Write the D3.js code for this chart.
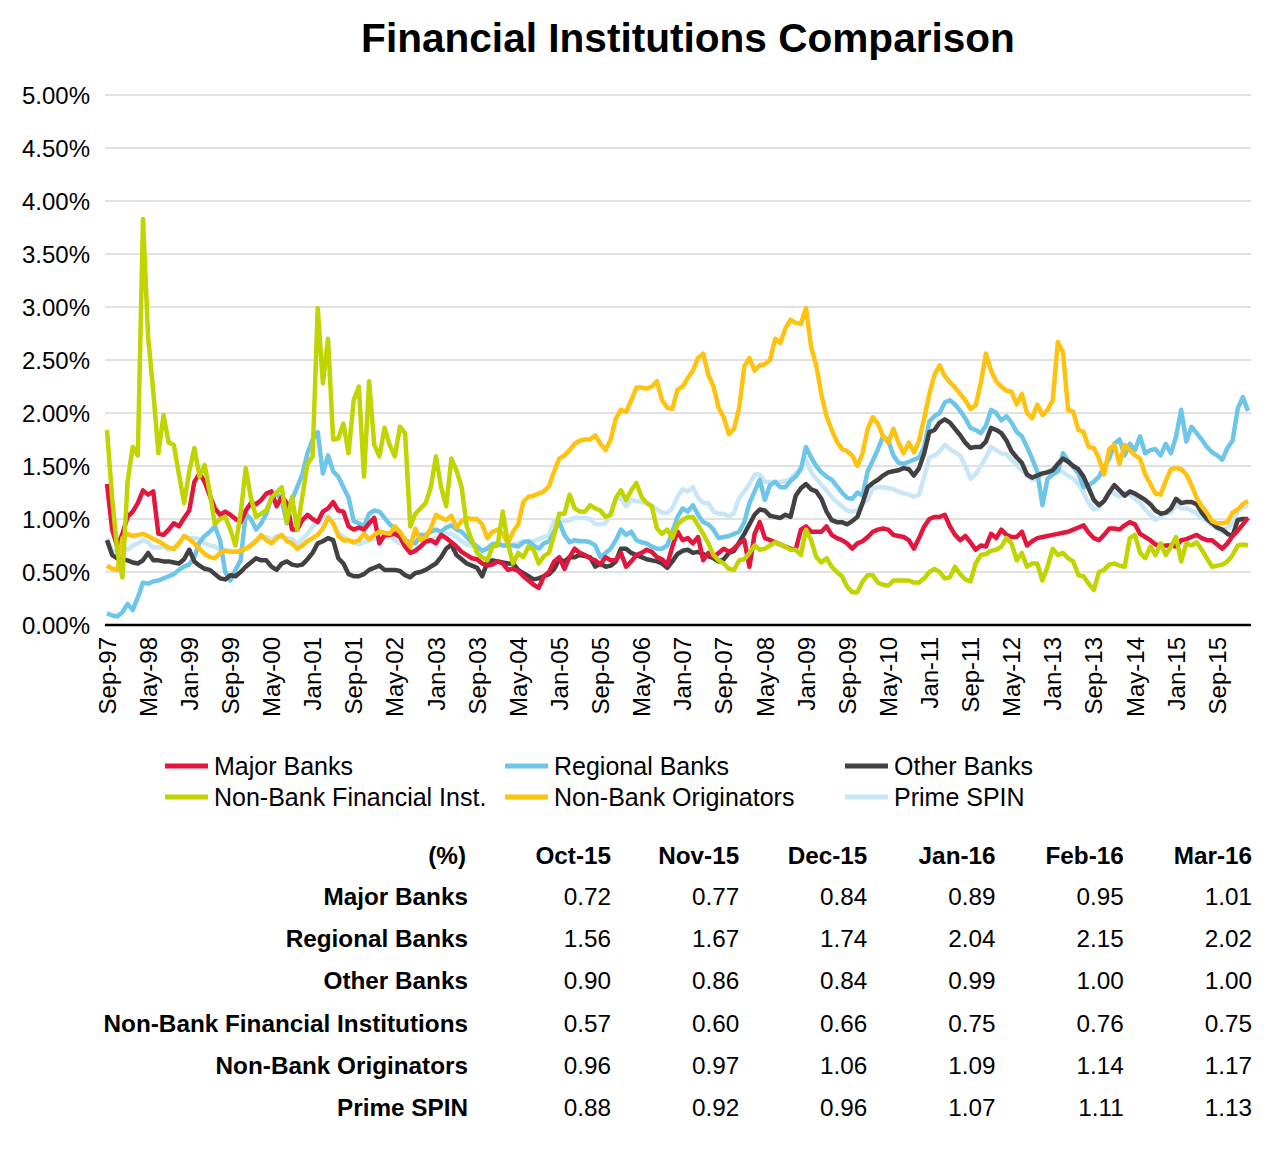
<!DOCTYPE html>
<html><head><meta charset="utf-8">
<script src="https://cdn.jsdelivr.net/npm/d3@7"></script>
<style>body{margin:0;background:#fff;font-family:"Liberation Sans",Arial,sans-serif}</style>
</head><body>
<svg id="chart" width="1276" height="1163"></svg>
<script>
// ---------- DATA ----------
const title = "Financial Institutions Comparison";
const firstMonth = "Sep-97"; // monthly series Sep-97 .. Mar-16 (223 months)
const xTickLabels = ["Sep-97","May-98","Jan-99","Sep-99","May-00","Jan-01","Sep-01","May-02","Jan-03","Sep-03","May-04","Jan-05","Sep-05","May-06","Jan-07","Sep-07","May-08","Jan-09","Sep-09","May-10","Jan-11","Sep-11","May-12","Jan-13","Sep-13","May-14","Jan-15","Sep-15"];
const yTicks = [0,0.5,1,1.5,2,2.5,3,3.5,4,4.5,5];

const majorBanks = [
1.33,0.90,0.74,0.86,1.02,1.07,1.15,1.27,1.23,1.26,
0.86,0.85,0.90,0.96,0.93,1.01,1.08,1.35,1.43,1.35,
1.22,1.10,1.04,1.07,1.04,1.00,0.97,1.08,1.15,1.14,
1.18,1.24,1.26,1.12,1.21,1.15,0.90,0.90,0.99,1.04,
1.00,0.97,1.07,1.10,1.16,1.08,1.07,0.93,0.90,0.92,
0.90,0.96,1.01,0.77,0.85,0.85,0.86,0.83,0.74,0.68,
0.70,0.74,0.79,0.80,0.77,0.85,0.82,0.78,0.74,0.69,
0.66,0.63,0.62,0.58,0.56,0.57,0.60,0.58,0.52,0.53,
0.51,0.46,0.42,0.38,0.35,0.46,0.50,0.60,0.64,0.53,
0.64,0.72,0.68,0.66,0.63,0.61,0.57,0.64,0.61,0.61,
0.68,0.55,0.60,0.66,0.68,0.71,0.69,0.64,0.62,0.57,
0.74,0.88,0.80,0.82,0.77,0.83,0.61,0.68,0.64,0.68,
0.72,0.69,0.72,0.77,0.80,0.55,0.86,0.97,0.82,0.80,
0.78,0.76,0.74,0.72,0.71,0.90,0.93,0.88,0.88,0.88,
0.93,0.85,0.82,0.80,0.77,0.72,0.77,0.79,0.83,0.88,
0.90,0.91,0.90,0.85,0.84,0.83,0.80,0.72,0.82,0.93,
1.00,1.02,1.02,1.04,0.93,0.85,0.80,0.84,0.78,0.71,
0.75,0.74,0.86,0.82,0.90,0.85,0.83,0.83,0.88,0.75,
0.79,0.82,0.83,0.84,0.85,0.86,0.87,0.88,0.90,0.92,
0.94,0.87,0.82,0.80,0.85,0.91,0.91,0.90,0.94,0.97,
0.95,0.86,0.83,0.80,0.76,0.74,0.75,0.75,0.74,0.80,
0.81,0.83,0.85,0.82,0.80,0.80,0.76,0.72,0.77,0.84,
0.89,0.95,1.01];

const regionalBanks = [
0.11,0.09,0.08,0.12,0.20,0.14,0.26,0.40,0.39,0.41,
0.42,0.44,0.46,0.48,0.52,0.55,0.57,0.64,0.78,0.84,
0.88,0.93,0.80,0.50,0.42,0.52,0.61,1.05,1.00,0.90,
0.96,1.05,1.20,1.24,1.18,0.96,1.18,1.30,1.42,1.62,
1.75,1.82,1.43,1.60,1.45,1.40,1.30,1.20,0.98,0.96,
0.93,1.05,1.08,1.07,1.01,0.95,0.91,0.86,0.80,0.78,
0.77,0.85,0.85,0.88,0.90,0.88,0.92,0.94,0.90,0.88,
0.83,0.78,0.74,0.70,0.72,0.76,0.77,0.75,0.75,0.75,
0.74,0.78,0.79,0.75,0.72,0.77,0.79,0.88,0.97,0.85,
0.78,0.80,0.79,0.79,0.78,0.75,0.64,0.68,0.72,0.80,
0.90,0.85,0.88,0.80,0.78,0.77,0.74,0.72,0.72,0.75,
0.88,1.02,1.10,1.07,1.13,1.04,0.97,0.95,0.90,0.82,
0.83,0.84,0.86,0.88,0.97,1.15,1.26,1.37,1.18,1.32,
1.35,1.30,1.30,1.36,1.40,1.47,1.68,1.58,1.50,1.44,
1.40,1.37,1.31,1.25,1.20,1.19,1.25,1.22,1.45,1.55,
1.66,1.78,1.74,1.60,1.53,1.52,1.54,1.56,1.58,1.68,
1.92,1.97,2.00,2.10,2.12,2.08,2.02,1.95,1.86,1.84,
1.81,1.88,2.03,2.00,1.93,1.97,1.91,1.82,1.78,1.68,
1.57,1.45,1.13,1.38,1.42,1.45,1.62,1.55,1.49,1.43,
1.30,1.32,1.35,1.40,1.49,1.57,1.71,1.75,1.60,1.71,
1.65,1.78,1.62,1.65,1.66,1.60,1.71,1.62,1.78,2.03,
1.73,1.87,1.81,1.75,1.68,1.63,1.60,1.56,1.67,1.74,
2.04,2.15,2.02];

const otherBanks = [
0.80,0.66,0.63,0.62,0.61,0.59,0.58,0.61,0.68,0.61,
0.61,0.60,0.60,0.59,0.58,0.62,0.71,0.60,0.56,0.53,
0.52,0.48,0.44,0.43,0.47,0.46,0.50,0.55,0.59,0.63,
0.61,0.61,0.55,0.52,0.58,0.60,0.57,0.56,0.57,0.62,
0.68,0.77,0.79,0.82,0.80,0.63,0.58,0.48,0.46,0.46,
0.48,0.52,0.54,0.56,0.52,0.52,0.52,0.51,0.47,0.45,
0.49,0.50,0.52,0.55,0.58,0.64,0.72,0.76,0.66,0.62,
0.58,0.56,0.54,0.46,0.59,0.61,0.60,0.59,0.58,0.58,
0.52,0.49,0.46,0.43,0.44,0.46,0.48,0.53,0.62,0.60,
0.64,0.64,0.66,0.65,0.64,0.55,0.58,0.55,0.56,0.60,
0.72,0.72,0.68,0.66,0.64,0.62,0.61,0.60,0.58,0.54,
0.60,0.67,0.70,0.71,0.68,0.69,0.67,0.65,0.63,0.60,
0.62,0.68,0.70,0.78,0.86,0.95,1.04,1.09,1.08,1.03,
1.02,1.01,1.04,1.02,1.22,1.29,1.33,1.28,1.26,1.19,
1.07,0.99,0.97,0.97,0.95,0.98,1.02,1.15,1.30,1.34,
1.37,1.41,1.44,1.45,1.46,1.48,1.47,1.41,1.48,1.62,
1.82,1.84,1.91,1.94,1.91,1.85,1.79,1.72,1.67,1.68,
1.68,1.73,1.86,1.84,1.81,1.74,1.64,1.58,1.53,1.42,
1.39,1.41,1.43,1.44,1.46,1.52,1.57,1.54,1.50,1.47,
1.40,1.29,1.18,1.13,1.17,1.25,1.32,1.27,1.22,1.26,
1.24,1.21,1.18,1.14,1.08,1.05,1.06,1.10,1.19,1.15,
1.16,1.16,1.14,1.06,1.00,0.96,0.92,0.90,0.86,0.84,
0.99,1.00,1.00];

const nonBankFinancial = [
1.84,1.20,0.70,0.45,1.35,1.68,1.60,3.83,2.72,2.20,
1.62,1.98,1.72,1.70,1.42,1.15,1.45,1.67,1.40,1.51,
1.25,0.95,1.00,1.02,0.90,0.75,1.05,1.48,1.20,1.02,
1.05,1.08,1.20,1.25,1.30,0.97,1.21,0.90,1.21,1.52,
1.59,2.99,2.28,2.70,1.75,1.76,1.90,1.62,2.12,2.25,
1.40,2.30,1.70,1.59,1.86,1.70,1.59,1.87,1.81,0.93,
1.05,1.10,1.15,1.30,1.59,1.30,1.12,1.57,1.46,1.30,
0.93,0.80,0.68,0.64,0.61,0.74,0.75,1.07,0.77,0.58,
0.68,0.64,0.74,0.71,0.58,0.65,0.68,0.85,1.05,1.05,
1.23,1.10,1.07,1.07,1.13,1.10,1.08,1.02,1.04,1.20,
1.27,1.18,1.27,1.34,1.21,1.15,1.12,0.91,0.86,0.90,
0.82,0.95,0.99,1.02,1.02,0.94,0.86,0.77,0.66,0.61,
0.58,0.53,0.52,0.61,0.62,0.68,0.75,0.71,0.72,0.75,
0.78,0.76,0.74,0.71,0.71,0.66,0.90,0.80,0.64,0.59,
0.63,0.55,0.50,0.46,0.36,0.31,0.31,0.41,0.47,0.47,
0.40,0.38,0.37,0.42,0.42,0.42,0.42,0.40,0.40,0.44,
0.50,0.53,0.50,0.44,0.45,0.55,0.48,0.43,0.41,0.58,
0.66,0.67,0.70,0.71,0.74,0.82,0.77,0.61,0.68,0.55,
0.58,0.58,0.42,0.55,0.72,0.66,0.68,0.63,0.60,0.47,
0.46,0.39,0.33,0.50,0.52,0.57,0.58,0.56,0.55,0.82,
0.85,0.68,0.63,0.74,0.66,0.77,0.66,0.74,0.83,0.60,
0.77,0.75,0.78,0.71,0.63,0.55,0.56,0.57,0.60,0.66,
0.75,0.76,0.75];

const nonBankOriginators = [
0.56,0.53,0.52,0.82,0.86,0.84,0.85,0.86,0.84,0.81,
0.79,0.76,0.73,0.72,0.77,0.84,0.81,0.77,0.72,0.67,
0.64,0.63,0.68,0.70,0.69,0.69,0.70,0.72,0.75,0.79,
0.85,0.80,0.77,0.82,0.85,0.79,0.77,0.72,0.75,0.79,
0.82,0.85,0.91,1.01,0.96,0.84,0.80,0.80,0.78,0.80,
0.86,0.81,0.85,0.88,0.87,0.86,0.93,0.88,0.80,0.74,
0.91,0.80,0.83,0.91,1.04,1.01,0.99,1.03,0.92,0.98,
1.01,1.00,1.00,0.95,0.82,0.88,0.90,0.86,0.77,0.88,
0.95,1.16,1.21,1.22,1.24,1.26,1.31,1.45,1.57,1.60,
1.65,1.71,1.74,1.75,1.75,1.79,1.71,1.65,1.75,1.95,
2.03,2.01,2.12,2.24,2.24,2.23,2.25,2.30,2.12,2.05,
2.04,2.22,2.25,2.33,2.40,2.52,2.56,2.36,2.25,2.05,
1.96,1.80,1.85,2.05,2.44,2.52,2.40,2.45,2.46,2.50,
2.70,2.66,2.80,2.88,2.85,2.84,2.99,2.62,2.45,2.17,
1.97,1.84,1.73,1.66,1.64,1.60,1.50,1.62,1.85,1.96,
1.90,1.78,1.72,1.85,1.72,1.62,1.72,1.63,1.74,1.95,
2.18,2.36,2.45,2.35,2.29,2.24,2.18,2.12,2.04,2.07,
2.28,2.56,2.40,2.30,2.25,2.21,2.20,2.08,2.18,2.00,
1.95,2.08,1.98,2.03,2.12,2.67,2.57,2.03,2.01,1.84,
1.82,1.68,1.67,1.57,1.42,1.66,1.70,1.52,1.70,1.65,
1.60,1.57,1.42,1.33,1.24,1.23,1.36,1.47,1.48,1.47,
1.42,1.32,1.20,1.12,1.06,0.98,0.96,0.96,0.97,1.06,
1.09,1.14,1.17];

const primeSpin = [
0.82,0.70,0.69,0.72,0.71,0.75,0.77,0.80,0.78,0.73,
0.73,0.74,0.71,0.72,0.76,0.84,0.82,0.82,0.81,0.77,
0.75,0.74,0.71,0.71,0.70,0.69,0.70,0.72,0.76,0.80,
0.82,0.83,0.80,0.84,0.83,0.82,0.81,0.77,0.81,0.86,
0.93,0.97,1.01,1.03,0.96,0.87,0.83,0.80,0.78,0.76,
0.78,0.80,0.81,0.82,0.82,0.84,0.80,0.77,0.75,0.70,
0.71,0.74,0.77,0.80,0.82,0.83,0.86,0.86,0.83,0.79,
0.76,0.75,0.73,0.70,0.73,0.77,0.76,0.75,0.75,0.76,
0.77,0.79,0.78,0.79,0.81,0.83,0.85,0.98,1.00,0.98,
0.99,1.01,1.01,1.01,1.00,0.95,0.95,0.96,1.06,1.18,
1.20,1.12,1.18,1.17,1.16,1.15,1.12,1.09,1.06,1.06,
1.10,1.21,1.28,1.26,1.30,1.20,1.15,1.15,1.07,1.05,
1.05,1.02,1.06,1.20,1.26,1.33,1.42,1.42,1.35,1.35,
1.35,1.35,1.36,1.38,1.43,1.49,1.56,1.44,1.38,1.32,
1.27,1.21,1.16,1.12,1.08,1.07,1.08,1.15,1.18,1.29,
1.30,1.30,1.29,1.28,1.26,1.24,1.23,1.21,1.23,1.40,
1.58,1.60,1.64,1.70,1.66,1.63,1.60,1.50,1.38,1.42,
1.50,1.58,1.68,1.65,1.62,1.61,1.56,1.51,1.46,1.41,
1.37,1.38,1.42,1.45,1.47,1.48,1.44,1.41,1.38,1.33,
1.25,1.15,1.09,1.10,1.17,1.26,1.24,1.21,1.25,1.23,
1.19,1.15,1.09,1.04,0.99,1.02,1.06,1.06,1.14,1.10,
1.10,1.08,1.05,1.01,0.98,0.94,0.91,0.88,0.92,0.96,
1.07,1.11,1.13];

const seriesNames = ["Major Banks","Regional Banks","Other Banks","Non-Bank Financial Inst.","Non-Bank Originators","Prime SPIN"];
const seriesColors = ["#e3173e","#6dc6ea","#414042","#c0d400","#ffc20e","#c9e6f7"];

const tableHeader = ["Oct-15","Nov-15","Dec-15","Jan-16","Feb-16","Mar-16"];
const tableRowLabels = ["Major Banks","Regional Banks","Other Banks","Non-Bank Financial Institutions","Non-Bank Originators","Prime SPIN"];
const tableMajor = ["0.72","0.77","0.84","0.89","0.95","1.01"];
const tableRegional = ["1.56","1.67","1.74","2.04","2.15","2.02"];
const tableOther = ["0.90","0.86","0.84","0.99","1.00","1.00"];
const tableNBFI = ["0.57","0.60","0.66","0.75","0.76","0.75"];
const tableNBO = ["0.96","0.97","1.06","1.09","1.14","1.17"];
const tablePrime = ["0.88","0.92","0.96","1.07","1.11","1.13"];

// ---------- CHART ----------
const svg = d3.select("#chart");
const font = "'Liberation Sans', Arial, sans-serif";
const seriesData = [majorBanks, regionalBanks, otherBanks, nonBankFinancial, nonBankOriginators, primeSpin];
const nMonths = majorBanks.length;

const x = d3.scaleLinear().domain([0, nMonths - 1]).range([107, 1248]);
const y = d3.scaleLinear().domain([0, 5]).range([625, 95]);
const plotLeft = 105, plotRight = 1251;

svg.append("text").attr("x", 688).attr("y", 52).attr("text-anchor", "middle")
  .attr("font-family", font).attr("font-weight", "bold").attr("font-size", 40.6).text(title);

// grid
svg.append("g").selectAll("line").data(yTicks.filter(d => d > 0)).join("line")
  .attr("x1", plotLeft).attr("x2", plotRight)
  .attr("y1", d => y(d)).attr("y2", d => y(d))
  .attr("stroke", "#c4c4c4").attr("stroke-width", 1);

// y labels
svg.append("g").selectAll("text").data(yTicks).join("text")
  .attr("x", 90).attr("y", d => y(d)).attr("dy", "0.36em").attr("text-anchor", "end")
  .attr("font-family", font).attr("font-size", 24).attr("fill", "#000")
  .text(d => d.toFixed(2) + "%");

// lines
const drawOrder = [5, 1, 2, 0, 4, 3];
const line = d3.line().x((d, i) => x(i)).y(d => y(d));
svg.append("g").selectAll("path").data(drawOrder).join("path")
  .attr("d", k => line(seriesData[k]))
  .attr("fill", "none").attr("stroke", k => seriesColors[k])
  .attr("stroke-width", 4.5).attr("stroke-linejoin", "round").attr("stroke-linecap", "butt");

// x axis line
svg.append("line").attr("x1", plotLeft).attr("x2", plotRight).attr("y1", y(0)).attr("y2", y(0))
  .attr("stroke", "#000").attr("stroke-width", 2.5);

// x tick labels
const tickIdx = xTickLabels.map((d, i) => i * 8);
svg.append("g").selectAll("text").data(tickIdx).join("text")
  .attr("transform", d => `translate(${x(d)},637) rotate(-90)`)
  .attr("dy", "0.36em").attr("text-anchor", "end")
  .attr("font-family", font).attr("font-size", 24).attr("fill", "#000")
  .text((d, i) => xTickLabels[i]);

// legend
const legCols = [165, 505, 845], legRows = [766, 797];
const leg = svg.append("g").selectAll("g").data(seriesNames).join("g")
  .attr("transform", (d, i) => `translate(${legCols[i % 3]},${legRows[Math.floor(i / 3)]})`);
leg.append("line").attr("x1", 0).attr("x2", 43).attr("y1", 0).attr("y2", 0)
  .attr("stroke", (d, i) => seriesColors[i]).attr("stroke-width", 5);
leg.append("text").attr("x", 49).attr("dy", "0.36em")
  .attr("font-family", font).attr("font-size", 25).attr("fill", "#000").text(d => d);

// table
const colX = d3.range(6).map(i => 611 + i * 128.2);
const tableRows = [tableMajor, tableRegional, tableOther, tableNBFI, tableNBO, tablePrime];
const tbl = svg.append("g").attr("font-family", font).attr("font-size", 24.3).attr("fill", "#000");
tbl.append("text").attr("x", 466).attr("y", 855).attr("dy", "0.36em").attr("text-anchor", "end")
  .attr("font-weight", "bold").text("(%)");
tbl.selectAll("text.h").data(tableHeader).join("text").attr("class", "h")
  .attr("x", (d, i) => colX[i]).attr("y", 855).attr("dy", "0.36em").attr("text-anchor", "end")
  .attr("font-weight", "bold").text(d => d);
const rowY = d3.range(6).map(i => 896 + i * 42.3);
tbl.selectAll("text.rl").data(tableRowLabels).join("text").attr("class", "rl")
  .attr("x", 468).attr("y", (d, i) => rowY[i]).attr("dy", "0.36em").attr("text-anchor", "end")
  .attr("font-weight", "bold").text(d => d);
tableRows.forEach((row, r) => {
  tbl.selectAll("text.v" + r).data(row).join("text").attr("class", "v" + r)
    .attr("x", (d, i) => colX[i]).attr("y", rowY[r]).attr("dy", "0.36em").attr("text-anchor", "end")
    .text(d => d);
});
</script>
</body></html>
